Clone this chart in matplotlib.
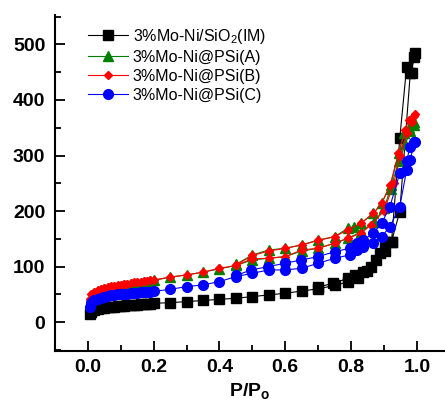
import matplotlib
matplotlib.use('Agg')
import matplotlib.pyplot as plt
from matplotlib.ticker import MultipleLocator

plt.rcParams['font.family'] = ['Liberation Sans', 'DejaVu Sans']
plt.rcParams['mathtext.fontset'] = 'custom'
plt.rcParams['mathtext.rm'] = 'Liberation Sans'
plt.rcParams['mathtext.bf'] = 'Liberation Sans:bold'
plt.rcParams['mathtext.it'] = 'Liberation Sans:italic'

# low pressure grid shared by all samples
p_low = [0.005, 0.01, 0.02, 0.03, 0.04, 0.05, 0.06, 0.07, 0.08, 0.09, 0.10,
         0.11, 0.12, 0.13, 0.14, 0.15, 0.16, 0.17, 0.18, 0.19, 0.20]

# 3%Mo-Ni/SiO2(IM)
im_ads_x = p_low + [0.25, 0.30, 0.35, 0.40, 0.45, 0.50, 0.55, 0.60, 0.65, 0.70,
                    0.75, 0.79, 0.82, 0.847, 0.877, 0.903, 0.923, 0.948, 0.98, 0.995]
im_ads_y = [15, 19, 22, 24, 25, 26, 27, 27.5, 28, 28.5, 29, 29.5, 30, 30.5, 31,
            31.5, 32, 32.5, 33, 33.5, 34,
            35, 37, 39, 41, 43, 46, 49, 52, 56, 60, 66, 72, 80, 92, 112, 128, 145, 199, 448, 484]
im_des_x = [0.99, 0.984, 0.969, 0.948, 0.923, 0.903, 0.887, 0.862, 0.837, 0.811, 0.791, 0.746, 0.70]
im_des_y = [478, 448, 460, 331, 145, 145, 124, 100, 91, 85, 79, 70, 63]

# 3%Mo-Ni@PSi(A)
a_ads_x = p_low + [0.25, 0.30, 0.35, 0.40, 0.45, 0.50, 0.55, 0.60, 0.65, 0.70,
                   0.75, 0.79, 0.83, 0.87, 0.90, 0.92, 0.945, 0.965, 0.98, 0.99]
a_ads_y = [35, 45, 50, 54, 57, 59, 61, 62, 63, 64, 65, 66, 67, 68, 69, 70, 71, 72, 73, 74, 75,
           81, 85, 90, 96, 102, 112, 115, 118, 128, 133, 142, 151, 162, 180, 205, 240, 290, 320, 345, 355]
a_des_x = [0.99, 0.975, 0.96, 0.945, 0.92, 0.893, 0.868, 0.83, 0.81, 0.79, 0.75, 0.70,
           0.65, 0.60, 0.55, 0.50, 0.45]
a_des_y = [360, 350, 340, 304, 247, 214, 196, 178, 172, 169, 154, 148, 139, 133, 130, 121, 104]

# 3%Mo-Ni@PSi(B)
b_ads_x = p_low + [0.25, 0.30, 0.35, 0.40, 0.45, 0.50, 0.55, 0.60, 0.65, 0.70,
                   0.75, 0.79, 0.83, 0.86, 0.90, 0.93, 0.95, 0.97, 0.985, 0.995]
b_ads_y = [42, 50, 55, 58, 60, 62, 63.5, 64.5, 65.5, 66.5, 67.5, 68.5, 69.5, 70.5, 71.5,
           72.5, 73, 74, 74.5, 75, 76,
           81, 85, 90, 97, 102, 114, 115, 118, 130, 133, 142, 151, 160, 175, 200, 250, 300, 340, 360, 375]
b_des_x = [0.99, 0.975, 0.965, 0.944, 0.919, 0.893, 0.868, 0.83, 0.79, 0.75, 0.70,
           0.65, 0.60, 0.55, 0.50, 0.45]
b_des_y = [372, 364, 346, 304, 247, 214, 196, 178, 166, 154, 147, 139, 133, 128, 120, 103]

# 3%Mo-Ni@PSi(C)
c_ads_x = p_low + [0.25, 0.30, 0.35, 0.40, 0.45, 0.50, 0.55, 0.60, 0.65, 0.70,
                   0.75, 0.796, 0.817, 0.837, 0.867, 0.893, 0.918, 0.948, 0.969, 0.979, 0.994]
c_ads_y = [28, 35, 39, 42, 44, 45.5, 47, 48, 49, 50, 50.5, 51, 51.5, 52, 52.5, 53, 53.5,
           54, 54.5, 55, 55.5,
           59, 64, 67, 73, 82, 88, 94, 94, 97, 106, 115, 121, 130, 136, 142, 154, 172, 208,
           274, 292, 325]
c_des_x = [0.99, 0.979, 0.969, 0.948, 0.918, 0.893, 0.867, 0.837, 0.817, 0.796, 0.751,
           0.70, 0.649, 0.599, 0.548, 0.497, 0.45]
c_des_y = [325, 316, 290, 268, 208, 178, 160, 148, 142, 133, 127, 118, 112, 106, 100, 94, 84]

series = [
    ('3%Mo-Ni/SiO$_2$(IM)', im_ads_x, im_ads_y, im_des_x, im_des_y, 'black', 's', 6.5),
    ('3%Mo-Ni@PSi(A)', a_ads_x, a_ads_y, a_des_x, a_des_y, '#008000', '^', 7),
    ('3%Mo-Ni@PSi(B)', b_ads_x, b_ads_y, b_des_x, b_des_y, 'red', 'D', 4.5),
    ('3%Mo-Ni@PSi(C)', c_ads_x, c_ads_y, c_des_x, c_des_y, 'blue', 'o', 7),
]

fig = plt.figure(figsize=(4.45, 4.05), dpi=100)
ax = fig.add_axes([0.1236, 0.1333, 0.876, 0.8296])

for label, ax_x, ax_y, dx, dy, col, mk, ms in series:
    xs = ax_x + dx
    ys = ax_y + dy
    ax.plot(xs, ys, color=col, marker=mk, markersize=ms, lw=0.8, label=label)

ax.set_xlim(-0.1, 1.085)
ax.set_ylim(-52, 553)
ax.xaxis.set_major_locator(MultipleLocator(0.2))
ax.xaxis.set_minor_locator(MultipleLocator(0.1))
ax.yaxis.set_major_locator(MultipleLocator(100))
ax.yaxis.set_minor_locator(MultipleLocator(50))
ax.tick_params(which='both', direction='in', width=1.3, top=False, right=False)
ax.tick_params(which='major', length=7, labelsize=14)
ax.tick_params(axis='x', which='major', pad=6)
ax.tick_params(axis='y', which='major', pad=7)
ax.tick_params(which='minor', length=4)
for t in ax.get_xticklabels() + ax.get_yticklabels():
    t.set_fontweight('bold')
ax.spines['top'].set_visible(False)
ax.spines['right'].set_visible(False)
ax.spines['left'].set_linewidth(1.5)
ax.spines['bottom'].set_linewidth(1.5)

ax.set_xlabel(r'$\mathbf{P/P_o}$', fontsize=14, labelpad=3)

ax.legend(loc='upper left', bbox_to_anchor=(0.085, 0.965), frameon=False,
          fontsize=11.5, handlelength=2.5, handletextpad=0.3, labelspacing=0.25,
          borderpad=0, borderaxespad=0)

fig.savefig('out.png', dpi=100)
